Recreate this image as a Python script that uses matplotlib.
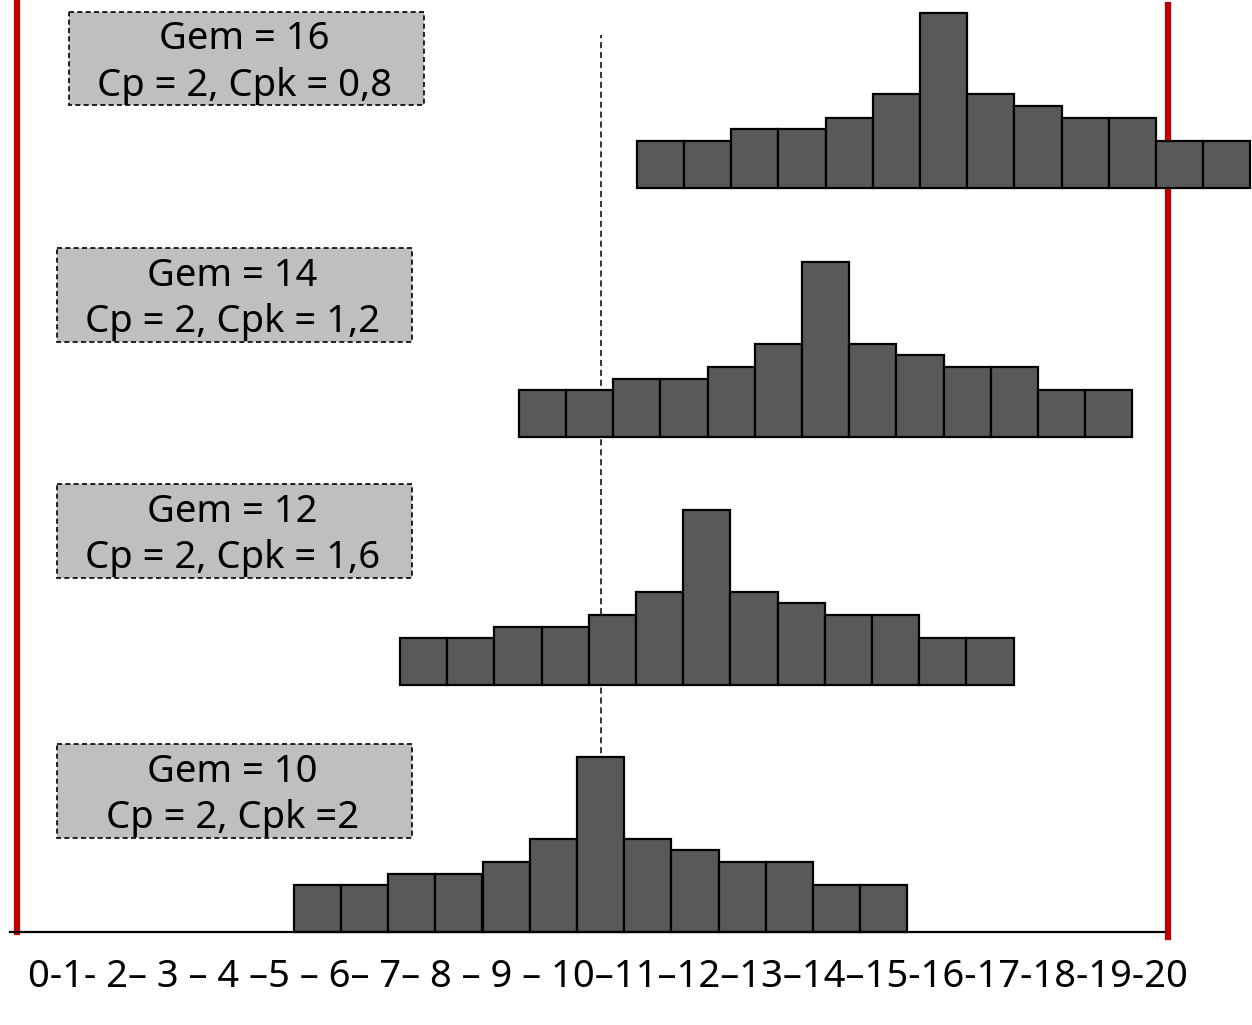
import matplotlib
matplotlib.use("Agg")
import matplotlib.pyplot as plt
from matplotlib.patches import Rectangle

# ---- data ----
bin_offsets = [-6, -5, -4, -3, -2, -1, 0, 1, 2, 3, 4, 5, 6]
counts = [4, 4, 5, 5, 6, 8, 15, 8, 7, 6, 6, 4, 4]
means = [10, 12, 14, 16]
cpk_labels = ["Gem = 10\nCp = 2, Cpk =2",
              "Gem = 12\nCp = 2, Cpk = 1,6",
              "Gem = 14\nCp = 2, Cpk = 1,2",
              "Gem = 16\nCp = 2, Cpk = 0,8"]
axis_label = "0-1- 2\u2013 3 \u2013 4 \u20135 \u2013 6\u2013 7\u2013 8 \u2013 9 \u2013 10\u201311\u201312\u201313\u201314\u201315-16-17-18-19-20"

# ---- layout (drawing positions) ----
W, H = 1252, 1025
hist_centers = [10.0, 12.25, 14.77, 17.27]   # drawn centre of each histogram
hist_bases = [0.0, 21.2, 42.5, 63.9]          # stacked baselines
lsl_x, usl_x = -2.36, 22.02
box_rects = [(57, 744, 355, 94), (57, 484, 355, 94), (57, 248, 355, 94), (69, 12, 355, 93)]

fig = plt.figure(figsize=(W / 100, H / 100), dpi=100)
ax = fig.add_axes([0, 0, 1, 1])
ax.set_xlim(10 - 600.5 / 47.2, 10 + (W - 600.5) / 47.2)
ax.set_ylim(-93 / 11.65, (H - 93) / 11.65)
ax.axis("off")

for c, b in zip(hist_centers, hist_bases):
    xs = [c + o for o in bin_offsets]
    ax.bar(xs, counts, width=1.0, bottom=b, color="#595959",
           edgecolor="black", linewidth=1.6, zorder=3)

ax.axvline(lsl_x, ymin=93 / H, ymax=(H - 2) / H, color="#C00000", lw=4.5, zorder=2)
ax.axvline(usl_x, ymin=88 / H, ymax=(H - 5) / H, color="#C00000", lw=4.5, zorder=2)
ax.axvline(means[0], ymin=93 / H, ymax=(H - 35) / H, color="black", lw=1.1,
           linestyle=(0, (4, 2.5)), zorder=1)
ax.axhline(0, xmin=10 / W, xmax=1165 / W, color="black", lw=1.6, zorder=4)

ax2 = fig.add_axes([0, 0, 1, 1])
ax2.set_xlim(0, W)
ax2.set_ylim(H, 0)
ax2.axis("off")
ax2.patch.set_alpha(0)

for (x, y, w, h), lab in zip(box_rects, cpk_labels):
    ax2.add_patch(Rectangle((x, y), w, h, facecolor="#BFBFBF", edgecolor="black",
                            lw=1.2, linestyle=(0, (3, 2)), zorder=2))
    ax2.text(x + w / 2 - 2, y + h / 2 + 4, lab, ha="center", va="center",
             fontsize=27.5, family="Noto Sans", linespacing=1.3, zorder=3)

t = ax2.text(607.5, 977, axis_label, ha="center", va="center",
             fontsize=27, family="Noto Sans")
fig.canvas.draw()
wext = t.get_window_extent().width
t.set_fontsize(27 * 1161 / wext)

fig.savefig("out.png", dpi=100)
